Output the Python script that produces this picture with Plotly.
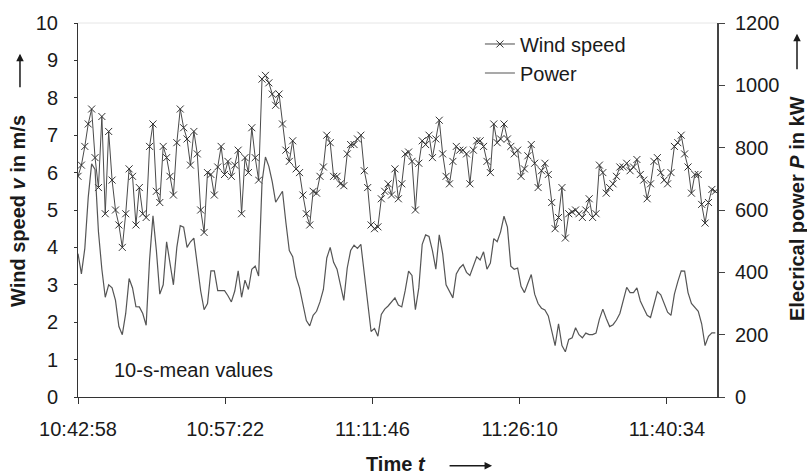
import pandas as pd
import plotly.graph_objects as go

# ---- data (one value every 20 s) ----
START_TIME = "2000-01-01 10:42:58"
SAMPLE_STEP_S = 20

wind_speed = [
    5.9, 6.2, 6.7, 7.3, 7.7, 6.4, 5.6, 7.5, 4.9, 7.1, 5.8, 5.0, 4.6, 4.0, 4.9, 6.1,
    5.9, 4.6, 5.6, 4.9, 4.8, 6.7, 7.3, 5.5, 5.2, 6.7, 6.4, 5.9, 5.4, 6.8, 7.7,
    7.2, 6.9, 6.2, 7.1, 6.5, 5.0, 4.4, 6.0, 5.95, 5.4, 6.15, 6.7, 5.95, 6.3, 5.9, 6.2,
    6.6, 4.9, 6.4, 6.0, 7.2, 6.4, 5.8, 8.5, 8.6, 8.4, 8.1, 7.8, 8.1, 7.3, 6.6, 6.3,
    6.85, 6.1, 6.0, 5.4, 4.9, 4.6, 5.5, 5.45, 5.9, 6.15, 7.0, 6.8, 5.9, 5.9, 5.7, 5.65,
    6.5, 6.75, 6.75, 6.9, 7.0, 6.05, 5.6, 4.6, 4.5, 4.55, 5.3, 5.5, 5.7, 5.4, 6.1, 5.3,
    5.7, 6.5, 6.55, 6.3, 5.0, 6.25, 6.85, 6.75, 7.0, 6.4, 6.9, 7.4, 6.5, 5.9, 5.7, 6.3,
    6.7, 6.6, 6.6, 6.5, 5.7, 6.6, 6.85, 6.85, 6.7, 6.3, 6.0, 7.3, 6.8, 6.9, 7.3, 6.9,
    6.7, 6.5, 6.6, 5.9, 6.1, 6.45, 6.75, 6.25, 5.6, 6.05, 6.25, 5.95, 5.2, 4.5, 4.8, 5.6,
    4.25, 4.9, 4.95, 5.0, 4.9, 4.8, 5.0, 5.3, 4.8, 4.9, 6.2, 6.0, 5.45, 5.6, 5.7,
    5.9, 6.15, 6.15, 6.25, 6.05, 6.15, 6.35, 5.95, 5.8, 5.3, 5.7, 6.3, 6.4, 6.0, 5.8,
    5.7, 6.0, 6.7, 6.8, 7.0, 6.5, 6.15, 5.45, 5.95, 5.95, 5.15, 4.65, 5.2, 5.55, 5.5,
]

power_kw = [
    460, 395, 477, 640, 748, 730, 530, 410, 320, 360, 350, 310, 226, 200, 268, 380,
    350, 290, 289, 268, 230, 440, 581, 470, 330, 360, 498, 430, 360, 480, 550,
    545, 480, 498, 510, 425, 340, 280, 300, 405, 405, 341, 341, 341, 325, 305, 340,
    405, 320, 375, 345, 410, 420, 388, 690, 770, 740, 690, 625, 644, 660, 560, 470,
    450, 385, 350, 300, 245, 228, 262, 275, 305, 345, 446, 480, 432, 410, 362, 310,
    414, 470, 487, 477, 490, 400, 310, 210, 220, 195, 265, 282, 292, 305, 318, 295,
    289, 341, 404, 390, 280, 350, 490, 520, 515, 470, 410, 520, 460, 360, 341, 318,
    395, 414, 425, 400, 390, 420, 450, 440, 466, 410, 430, 508, 498, 530, 580, 545,
    420, 410, 414, 355, 335, 365, 393, 330, 300, 285, 279, 260, 215, 165, 235, 165,
    145, 185, 190, 222, 200, 190, 205, 200, 200, 205, 250, 282, 252, 226, 232,
    247, 268, 310, 352, 335, 335, 350, 308, 285, 262, 255, 295, 338, 328, 300,
    272, 262, 330, 370, 405, 404, 335, 300, 287, 275, 235, 165, 195, 206, 206,
]

tick_labels = ["10:42:58", "10:57:22", "11:11:46", "11:26:10", "11:40:34"]
AXIS_SPAN_S = 3750

# ---- build ----
start = pd.Timestamp(START_TIME)
times = [start + pd.Timedelta(seconds=SAMPLE_STEP_S * i) for i in range(len(wind_speed))]
tick_vals = [pd.Timestamp("2000-01-01 " + t) for t in tick_labels]

FONT = "Liberation Sans, Arial, sans-serif"
INK = "#1a1a1a"

fig = go.Figure()
fig.add_trace(go.Scatter(
    x=times, y=power_kw, name="Power", yaxis="y2", mode="lines",
    line=dict(color="#555555", width=1.2),
))
fig.add_trace(go.Scatter(
    x=times, y=wind_speed, name="Wind speed", mode="lines+markers",
    line=dict(color="#4a4a4a", width=1),
    marker=dict(symbol="x-thin", size=7, line=dict(color="#333333", width=1)),
))

fig.update_layout(
    width=807, height=474,
    margin=dict(l=78, r=90, t=17, b=77),
    paper_bgcolor="white", plot_bgcolor="white",
    font=dict(family=FONT, size=20, color=INK),
    showlegend=True,
    legend=dict(
        x=0.629, y=0.996, xanchor="left", yanchor="top",
        bgcolor="rgba(0,0,0,0)", font=dict(size=20),
        traceorder="reversed", itemwidth=30, tracegroupgap=0,
    ),
    xaxis=dict(
        type="date",
        range=[start, start + pd.Timedelta(seconds=AXIS_SPAN_S)],
        tickvals=tick_vals, ticktext=tick_labels,
        showgrid=False, zeroline=False,
        showline=True, linecolor="#333333", linewidth=1,
        ticks="outside", ticklen=6, tickcolor="#333333",
        ticklabelstandoff=8,
        tickfont=dict(size=20, color=INK),
    ),
    yaxis=dict(
        range=[0, 10], dtick=1, showgrid=False, zeroline=False,
        showline=True, linecolor="#333333", linewidth=1,
        ticks="outside", ticklen=3, tickcolor="#333333",
        ticklabelstandoff=12,
        tickfont=dict(size=20, color=INK),
    ),
    yaxis2=dict(
        range=[0, 1200], dtick=200, overlaying="y", side="right",
        showgrid=False, zeroline=False,
        showline=True, linecolor="#444444", linewidth=2,
        ticks="outside", ticklen=6, tickcolor="#444444",
        ticklabelstandoff=6,
        tickfont=dict(size=20, color=INK),
    ),
)

# faint top border of plot area
fig.add_shape(type="line", xref="paper", yref="paper", x0=0, x1=1, y0=1, y1=1,
              line=dict(color="#e6e6e6", width=1))

ann = []
# axis titles
ann.append(dict(text="<b>Wind speed <i>v</i> in m/s</b>", xref="paper", yref="paper",
                x=-0.094, y=0.497, xanchor="center", yanchor="middle",
                textangle=-90, showarrow=False, font=dict(size=20, color=INK)))
ann.append(dict(text="<b>Elecrical power <i>P</i> in kW</b>", xref="paper", yref="paper",
                x=1.125, y=0.505, xanchor="center", yanchor="middle",
                textangle=-90, showarrow=False, font=dict(size=20, color=INK)))
ann.append(dict(text="<b>Time <i>t</i></b>", xref="paper", yref="paper",
                x=0.4977, y=-0.179, xanchor="center", yanchor="middle",
                showarrow=False, font=dict(size=20, color=INK)))
ann.append(dict(text="10-s-mean values", xref="paper", yref="paper",
                x=0.053, y=0.071, xanchor="left", yanchor="middle",
                showarrow=False, font=dict(size=20, color=INK)))
# arrows
arrow_style = dict(text="", showarrow=True, arrowhead=2, arrowsize=1,
                   arrowwidth=1.5, arrowcolor=INK, xref="paper", yref="paper")
ann.append(dict(x=-0.0908, y=0.918, ax=0, ay=35, **arrow_style))
ann.append(dict(x=1.1252, y=0.971, ax=0, ay=37, **arrow_style))
ann.append(dict(x=0.648, y=-0.184, ax=-44, ay=0, **arrow_style))
fig.update_layout(annotations=ann)

fig.write_html("out.html")
